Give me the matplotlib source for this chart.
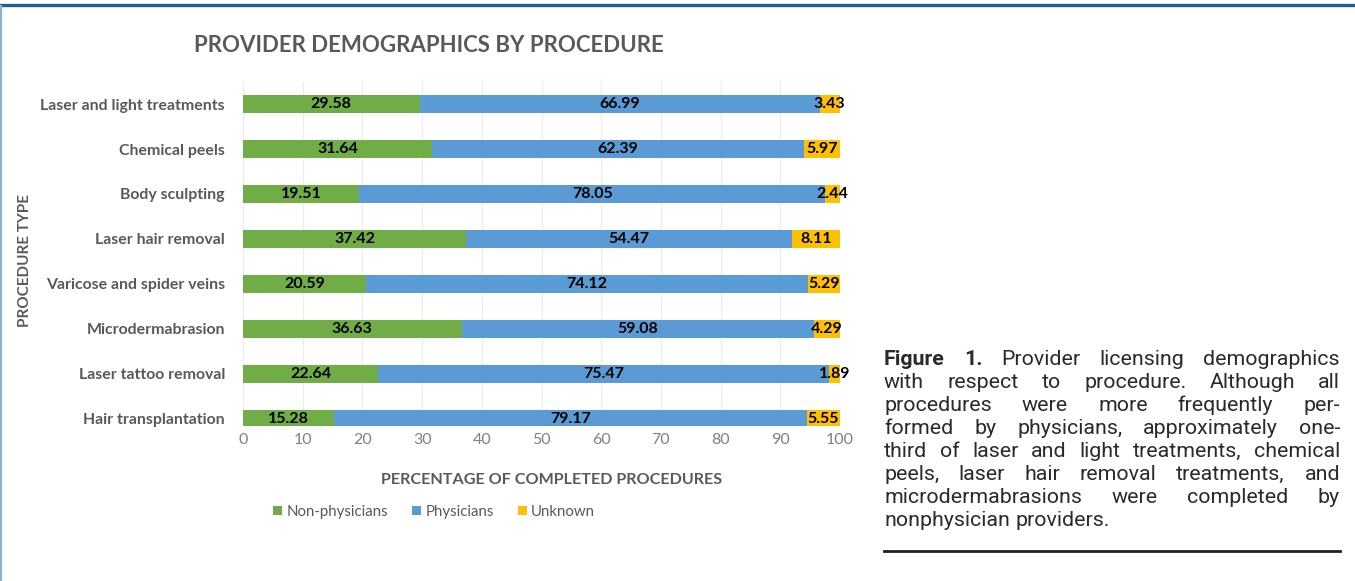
import matplotlib

matplotlib.use("Agg")
import matplotlib.pyplot as plt
from matplotlib.lines import Line2D
from matplotlib.patches import Patch
import numpy as np

W, H = 1355, 581

procedures = [
    "Laser and light treatments",
    "Chemical peels",
    "Body sculpting",
    "Laser hair removal",
    "Varicose and spider veins",
    "Microdermabrasion",
    "Laser tattoo removal",
    "Hair transplantation",
]
non_physicians = [29.58, 31.64, 19.51, 37.42, 20.59, 36.63, 22.64, 15.28]
physicians = [66.99, 62.39, 78.05, 54.47, 74.12, 59.08, 75.47, 79.17]
unknown = [3.43, 5.97, 2.44, 8.11, 5.29, 4.29, 1.89, 5.55]

series_names = ["Non-physicians", "Physicians", "Unknown"]
series_colors = ["#70ad47", "#5b9bd5", "#ffc000"]
xticks = [0, 10, 20, 30, 40, 50, 60, 70, 80, 90, 100]

caption_lines = [
    "Figure 1. Provider licensing demographics",
    "with respect to procedure. Although all",
    "procedures were more frequently per-",
    "formed by physicians, approximately one-",
    "third of laser and light treatments, chemical",
    "peels, laser hair removal treatments, and",
    "microdermabrasions were completed by",
    "nonphysician providers.",
]

CHART_FONT = "Lato"
GRAY = "#595959"


def px_x(x):
    return x / W


def px_y(y):
    return 1 - y / H


fig = plt.figure(figsize=(W / 100, H / 100), dpi=100)
fig.patch.set_facecolor("white")

# axes placed in pixel terms of the reference
ax_left, ax_right, ax_top, ax_bottom = 243, 840, 82, 426
ax = fig.add_axes([px_x(ax_left), px_y(ax_bottom), (ax_right - ax_left) / W, (ax_bottom - ax_top) / H])

n = len(procedures)
ypos = np.arange(n)[::-1]
bar_h = 0.4
series = [non_physicians, physicians, unknown]
left = np.zeros(n)
for vals, name, color in zip(series, series_names, series_colors):
    vals = np.array(vals)
    ax.barh(ypos, vals, left=left, height=bar_h, color=color, label=name, zorder=2)
    for y, l, v in zip(ypos, left, vals):
        ax.text(l + v / 2, y, f"{v:.2f}", ha="center", va="center", fontsize=11.5,
                fontweight="bold", color="black", family=CHART_FONT, zorder=3)
    left += vals

ax.set_xlim(0, 100)
ax.set_ylim(-0.16, n - 1 + 0.49)
ax.set_xticks(xticks)
ax.set_xticklabels([str(t) for t in xticks], fontsize=11.5, color="#808080", family=CHART_FONT)
ax.set_yticks(ypos)
ax.set_yticklabels(procedures, fontsize=11.4, fontweight="bold", color=GRAY, family=CHART_FONT)
ax.tick_params(axis="both", length=0)
ax.tick_params(axis="x", pad=5)
ax.tick_params(axis="y", pad=13)
for s in ax.spines.values():
    s.set_visible(False)
ax.grid(axis="x", color="#ececec", linewidth=0.8, zorder=0)
ax.set_axisbelow(True)

fig.text(px_x(429), px_y(45), "PROVIDER DEMOGRAPHICS BY PROCEDURE", ha="center", va="center",
         fontsize=16, fontweight="bold", color=GRAY, family=CHART_FONT)
fig.text(px_x(552), px_y(480), "PERCENTAGE OF COMPLETED PROCEDURES", ha="center", va="center",
         fontsize=11.6, fontweight="bold", color=GRAY, family=CHART_FONT)
fig.text(px_x(25), px_y(260), "PROCEDURE TYPE", ha="center", va="center", rotation=90,
         fontsize=11, fontweight="bold", color=GRAY, family=CHART_FONT)

handles = [Patch(facecolor=c, edgecolor="none") for c in series_colors]
fig.legend(handles, series_names, loc="center", bbox_to_anchor=(px_x(434), px_y(512)), ncol=3,
           frameon=False, handlelength=0.6, handleheight=0.6, handletextpad=0.3, columnspacing=1.6,
           prop={"family": CHART_FONT, "size": 10.8}, labelcolor=GRAY)

# page decorations
fig.add_artist(Line2D([0, 1], [px_y(5), px_y(5)], color="#1d5e98", linewidth=2.4, transform=fig.transFigure))
fig.add_artist(Line2D([px_x(1), px_x(1)], [0, px_y(6)], color="#8db4d6", linewidth=1.6, transform=fig.transFigure))

# justified caption
cap_left, cap_right = 884, 1340
base0, step = 365, 23.0
cap_font = "Roboto"
cap_size = 15.4
cap_color = "#2a2a2a"
renderer = fig.canvas.get_renderer()
for i, line in enumerate(caption_lines):
    words = line.split(" ")
    weights = ["bold" if (i == 0 and j < 2) else "normal" for j in range(len(words))]
    y = px_y(base0 + i * step)
    texts = [fig.text(0, y, w, ha="left", va="baseline", fontsize=cap_size, family=cap_font,
                      fontweight=wt, color=cap_color) for w, wt in zip(words, weights)]
    widths = [t.get_window_extent(renderer).width for t in texts]
    natural = cap_size * 0.25 * 100 / 72
    if i == len(caption_lines) - 1:
        space = natural
    else:
        space = max((cap_right - cap_left - sum(widths)) / (len(words) - 1), 2)
    x = cap_left
    for t, w in zip(texts, widths):
        t.set_x(px_x(x))
        x += w + space

fig.add_artist(Line2D([px_x(cap_left), px_x(cap_right)], [px_y(551), px_y(551)], color="#231f20",
                      linewidth=2.0, transform=fig.transFigure))

fig.savefig("out.png", dpi=100)
